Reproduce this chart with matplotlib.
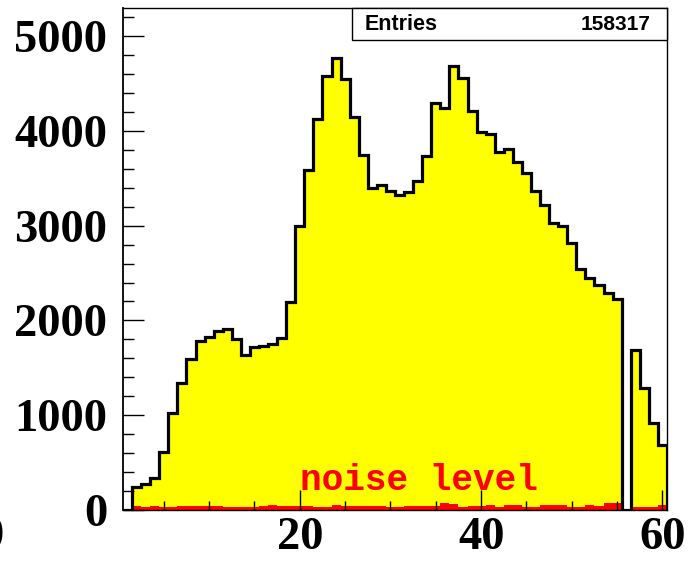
import matplotlib
matplotlib.use('Agg')
import matplotlib.pyplot as plt
from matplotlib.ticker import MultipleLocator
from matplotlib.patches import Rectangle
import numpy as np

# bin edges: 60 bins of width 1, centred on 1..60
edges = np.arange(0.5, 61.0, 1.0)

counts = [0, 243, 268, 331, 613, 1019, 1343, 1593, 1787, 1822,
          1892, 1910, 1804, 1635, 1723, 1730, 1751, 1812, 2192, 3002,
          3584, 4130, 4581, 4772, 4550, 4148, 3746, 3397, 3425, 3362,
          3327, 3351, 3475, 3732, 4296, 4243, 4690, 4560, 4215, 3989,
          3968, 3774, 3810, 3672, 3556, 3366, 3214, 3034, 3002, 2816,
          2544, 2446, 2375, 2287, 2227, 0, 1688, 1290, 913, 684]

noise = [0, 42, 25, 42, 25, 25, 35, 42, 42, 35,
         35, 32, 32, 32, 32, 38, 53, 38, 42, 42,
         42, 25, 25, 53, 38, 38, 38, 38, 42, 28,
         28, 38, 38, 38, 38, 74, 56, 28, 42, 42,
         49, 25, 49, 49, 25, 25, 46, 46, 46, 28,
         28, 49, 38, 67, 74, 0, 25, 25, 25, 49]

entries = '158317'

plt.rcParams['font.family'] = 'Liberation Serif'
plt.rcParams['font.weight'] = 'bold'

fig = plt.figure(figsize=(7, 5.63), dpi=100)
ax = fig.add_axes([123 / 700, 1 - 509.7 / 563, 544 / 700, 501.7 / 563])

ax.stairs(counts, edges, fill=True, color='#ffff00', lw=0)
ax.stairs(noise, edges, fill=True, color='#ff0000', lw=0)
ax.stairs(counts, edges, color='black', lw=2.3)

ax.text(20.0, 205, 'noise level', color='#ff0000', fontsize=26,
        family='Liberation Mono', weight='bold', va='baseline', ha='left')

ax.set_xlim(0.5, 60.5)
ax.set_ylim(0, 5300)

ax.xaxis.set_major_locator(MultipleLocator(20))
ax.xaxis.set_minor_locator(MultipleLocator(5))
ax.yaxis.set_major_locator(MultipleLocator(1000))
ax.yaxis.set_minor_locator(MultipleLocator(200))

ax.tick_params(axis='both', which='both', direction='in', width=1, color='black')
ax.tick_params(axis='x', which='major', length=14.5, pad=5, labelsize=33.5)
ax.tick_params(axis='x', which='minor', length=6.5)
ax.tick_params(axis='y', which='major', length=15, pad=11.5, labelsize=33.5)
ax.tick_params(axis='y', which='minor', length=8)

for s in ax.spines.values():
    s.set_linewidth(1)
ax.spines['left'].set_linewidth(1.3)

# stats box
ax.add_patch(Rectangle((0.4204, 0.9362), 0.5796, 0.0638, transform=ax.transAxes,
                       facecolor='white', edgecolor='black', lw=1, zorder=5, clip_on=False))
ax.text(0.445, 0.968, 'Entries', transform=ax.transAxes, family='Liberation Sans',
        weight='bold', fontsize=15.5, va='center', ha='left', zorder=6)
ax.text(0.969, 0.968, entries, transform=ax.transAxes, family='Liberation Sans',
        weight='bold', fontsize=15, va='center', ha='right', zorder=6)

# label cut off at the far left edge, as in the original
fig.text(4 / 700, 1 - 537 / 563, '0', fontsize=33.5, weight='bold', ha='right', va='center')

fig.savefig('out.png', dpi=100)
